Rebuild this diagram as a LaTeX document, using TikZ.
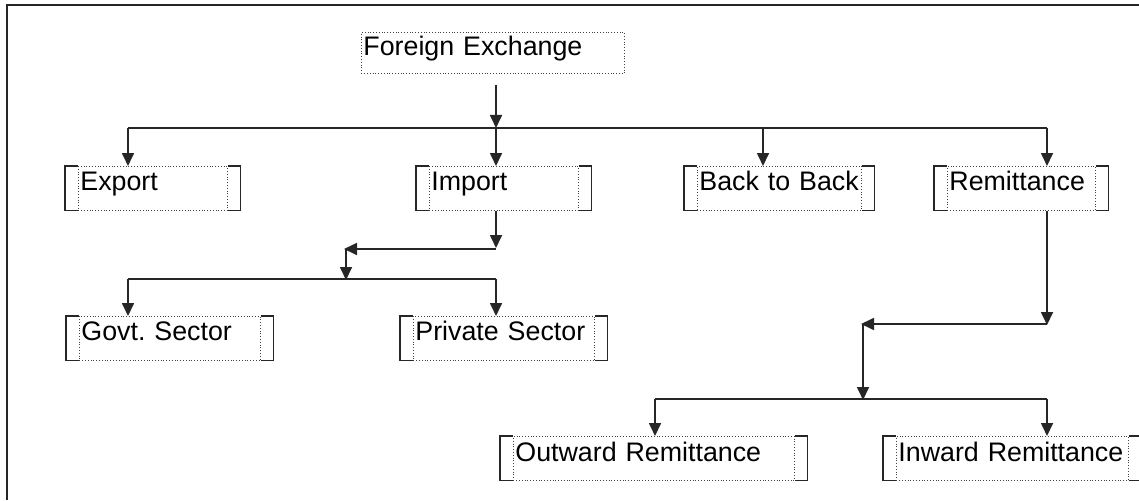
\documentclass[tikz,border=0pt]{standalone}
\usepackage{fontspec}
\setmainfont{Liberation Sans}
\usetikzlibrary{arrows.meta}
\frenchspacing
\begin{document}
\begin{tikzpicture}[x=1pt,y=-1pt,
  conn/.style={line width=1.7pt,draw=black!85},
  arr/.style={conn,-{Triangle[length=13pt,width=12pt]}},
  dbox/.style={draw=black!75,dotted,line width=0.8pt,inner xsep=2pt,inner ysep=0pt,
     anchor=north west,align=left,text height=24pt,text depth=20pt,
     font=\fontsize{26.8}{30}\selectfont},
  bar/.style={draw=black!85,line width=1.2pt},
  frame/.style={draw=black!85,line width=1.6pt}]
\useasboundingbox (0,0) rectangle (1139,500);
\draw[frame] (1139,5) -- (7,5) -- (7,500);
% Foreign Exchange
\node[dbox,text width=259pt,text height=23pt,text depth=18pt] (FE) at (361,32) {Foreign Exchange};
% process boxes: dotted inner node + solid side brackets
\newcommand\brackets[1]{%
  \draw[bar] (#1.north west) -- ++(-13,0) |- (#1.south west);
  \draw[bar] (#1.north east) -- ++(13,0) |- (#1.south east);}
\node[dbox,text width=145pt] (Export) at (78,166) {Export};
\node[dbox,text width=145pt] (Import) at (429,166) {Import};
\node[dbox,text width=160pt] (BtB) at (697,166) {Back to Back};
\node[dbox,text width=144pt] (Remit) at (947,166) {Remittance};
\node[dbox,text width=177pt] (Govt) at (79,316) {Govt. Sector};
\node[dbox,text width=177pt] (Private) at (413,316) {Private Sector};
\node[dbox,text width=277pt,text height=25pt,text depth=19pt] (Out) at (513,436) {Outward Remittance};
\node[dbox,text width=228pt,text height=25pt,text depth=19pt] (In) at (896,436) {Inward Remittance};
\brackets{Export}\brackets{Import}\brackets{BtB}\brackets{Remit}
\brackets{Govt}\brackets{Private}
\draw[bar] (Out.north west) -- ++(-13,0) |- (Out.south west);
\draw[bar] (Out.north east) -- ++(13,0) |- (Out.south east);
\draw[bar] (In.north west) -- ++(-13,0) |- (In.south west);
\draw[bar] (In.north east) -- ++(11,0) |- (In.south east);
% top level
\coordinate (jE) at (128,128);
\coordinate (jI) at (496,128);
\coordinate (jB) at (763,128);
\coordinate (jR) at (1047,128);
\draw[arr] ([yshift=-11pt]FE.south -| jI) -- (jI);
\draw[conn] (jE) -- (jR);
\draw[arr] (jE) -- (jE |- Export.north);
\draw[arr] (jI) -- (jI |- Import.north);
\draw[arr] (jB) -- (jB |- BtB.north);
\draw[arr] (jR) -- (jR |- Remit.north);
% import branch
\coordinate (i1) at (496,249);
\coordinate (i2) at (346,249);
\coordinate (i3) at (346,279);
\coordinate (gL) at (128,279);
\coordinate (gR) at (496,279);
\draw[arr] (i1 |- Import.south) -- ([yshift=1pt]i1);
\draw[arr] (i1) -- ([xshift=-2pt]i2);
\draw[arr] (i2) -- ([yshift=-1pt]i3);
\draw[conn] (gL) -- (gR);
\draw[arr] (gL) -- (gL |- Govt.north);
\draw[arr] (gR) -- (gR |- Private.north);
% remittance branch
\coordinate (r1) at (1047,324);
\coordinate (r2) at (863,324);
\coordinate (r3) at (863,399);
\coordinate (oL) at (655,399);
\coordinate (oR) at (1047,399);
\draw[arr] (r1 |- Remit.south) -- ([yshift=-1pt]r1);
\draw[arr] (r1) -- ([xshift=-2pt]r2);
\draw[arr] (r2) -- ([yshift=-1pt]r3);
\draw[conn] (oL) -- (oR);
\draw[arr] (oL) -- (oL |- Out.north);
\draw[arr] (oR) -- (oR |- In.north);
\end{tikzpicture}
\end{document}
